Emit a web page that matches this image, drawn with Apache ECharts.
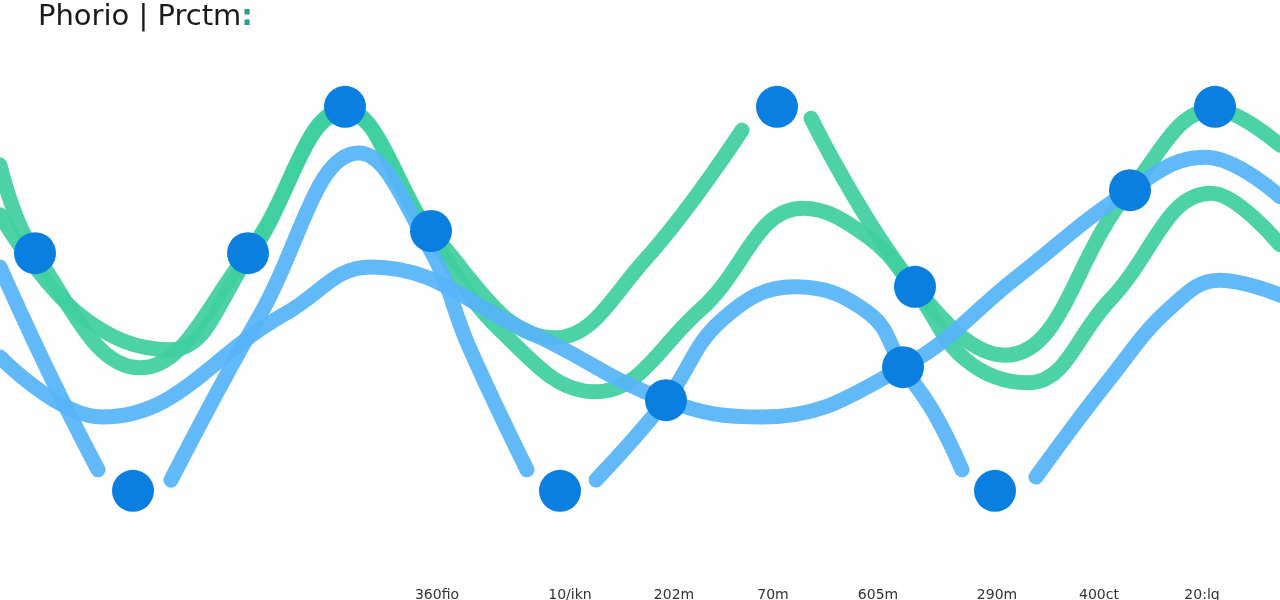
<!DOCTYPE html>
<html>
<head>
<meta charset="utf-8">
<script src="https://cdn.jsdelivr.net/npm/echarts@6/dist/echarts.min.js"></script>
<style>html,body{margin:0;padding:0;background:#fff}#c{width:1280px;height:600px}</style>
</head>
<body>
<div id="c"></div>
<script>
// Data (x: 0..128, y: 0..100)
const greenA = [[0,72.5],[3.5,57.8],[14.0,38.7],[24.8,57.8],[34.5,81.7],[43.1,61.3],[55.5,43.7],[64.5,56.7],[74.2,78.3],[76,'-'],[81.1,80.3],[91.5,52.2],[100.5,40.8],[113.0,68.3],[121.5,81.7],[128.0,75.8]];
const greenB = [[0,64.2],[8.0,47.5],[17.0,41.7],[24.8,57.0],[34.5,81.3],[43.1,60.7],[50.0,45.0],[59.5,34.7],[70.0,48.3],[80.3,65.3],[86.8,60.5],[91.5,51.7],[96.6,40.0],[102.8,36.2],[111.0,50.0],[121.1,67.8],[128.0,59.2]];
const blueTall = [[0,55.5],[5.0,37.5],[9.8,21.7],[13,'-'],[17.1,20.0],[26.1,47.8],[35.9,74.5],[42.9,58.8],[46.9,42.2],[52.7,21.7],[56,'-'],[59.6,20.0],[66.6,33.3],[72.2,46.7],[79.5,52.2],[86.9,47.8],[90.3,38.8],[93.4,31.2],[96.2,21.7],[99,'-'],[103.6,20.5],[110.9,36.7],[117.1,48.8],[122.0,53.3],[128.0,50.8]];
const blueBroad = [[0,40.5],[10.2,30.5],[28.6,47.8],[37.1,55.5],[53.1,44.5],[66.6,33.3],[76.2,30.5],[90.3,38.8],[101.6,53.7],[113.0,68.3],[120.5,73.8],[128.0,67.2]];
const markers = [[3.5,57.8],[13.3,18.2],[24.8,57.8],[34.5,82.2],[43.1,61.5],[56.0,18.2],[66.6,33.3],[77.7,82.2],[90.3,38.8],[91.5,52.2],[99.5,18.2],[113.0,68.3],[121.5,82.2]];
const tickPositions = [43.7,57.0,67.4,77.3,87.8,99.7,109.9,120.2];
const tickLabels = ["360fio","10/ikn","202m","70m","605m","290m","400ct","20:lq"];

const GREEN = '#3fcf9f', BLUE = '#56b4f8', DOT = '#0a7fe0';
function line(data, color, z) {
  return { type:'line', data, smooth:0.42, symbol:'none', connectNulls:false, z,
    xAxisIndex:0, yAxisIndex:0,
    lineStyle:{ color, width:15, cap:'round', join:'round', opacity:0.93 } };
}
const chart = echarts.init(document.getElementById('c'), null, {renderer:'canvas'});
chart.setOption({
  backgroundColor:'#fefefe',
  animation:false,
  title:{ left:33, top:-2, text:'{a|Phorio | Prctm}{b|:}',
    textStyle:{ rich:{ a:{fontFamily:'DejaVu Sans', fontSize:29, color:'#1a1a1a', fontWeight:'normal'}, b:{fontFamily:'DejaVu Sans', fontSize:29, color:'#2a9d8f'} } } },
  grid:[{left:0,right:0,top:0,bottom:0},{left:0,right:0,top:585,height:1}],
  xAxis:[
    {type:'value', min:0, max:128, show:false, gridIndex:0},
    {type:'value', min:0, max:128, gridIndex:1, axisLine:{show:false}, axisTick:{show:false}, splitLine:{show:false},
     axisLabel:{ customValues:tickPositions, margin:3, fontSize:14, fontFamily:'DejaVu Sans', color:'#333',
       formatter:(v)=>{ const i = tickPositions.indexOf(v); return i>=0 ? tickLabels[i] : ''; } } }
  ],
  yAxis:[
    {type:'value', min:0, max:100, show:false, gridIndex:0},
    {type:'value', min:0, max:1, show:false, gridIndex:1}
  ],
  series:[
    line(greenB, GREEN, 2),
    line(greenA, GREEN, 2),
    line(blueBroad, BLUE, 3),
    line(blueTall, BLUE, 3),
    { type:'scatter', data:markers, symbolSize:42, z:5, itemStyle:{color:DOT, opacity:1}, xAxisIndex:0, yAxisIndex:0 }
  ]
});
</script>
</body>
</html>
